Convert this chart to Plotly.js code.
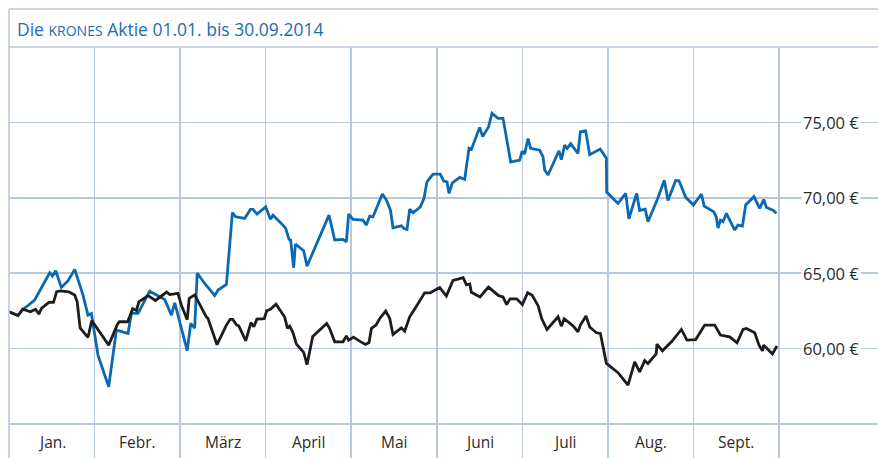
<!DOCTYPE html>
<html><head><meta charset="utf-8">
<script src="https://cdn.plot.ly/plotly-3.0.1.min.js"></script>
<style>html,body{margin:0;padding:0;background:#fff}#chart{width:878px;height:458px}</style>
</head><body><div id="chart"></div><script>
// Month labels (equal-width month bands, x in month units 0..9)
const months = ["Jan.","Febr.","März","April","Mai","Juni","Juli","Aug.","Sept."];
const monthEdges = [1,2,3,4,5,6,7,8,9];
const yGrid = [55,60,65,70,75];
const yLabelVals = [60,65,70,75];
const yLabelText = ["60,00 €","65,00 €","70,00 €","75,00 €"];

// KRONES share (blue)
const kronesX = [0,0.105,0.164,0.300,0.476,0.507,0.546,0.612,0.690,0.768,0.865,0.923,0.963,1.040,1.165,1.255,1.391,1.431,1.508,1.644,1.820,1.898,1.937,2.083,2.124,2.170,2.200,2.287,2.404,2.443,2.541,2.611,2.650,2.755,2.821,2.852,2.899,3.000,3.055,3.086,3.202,3.234,3.273,3.292,3.327,3.347,3.444,3.483,3.740,3.807,3.904,3.943,3.970,4.021,4.137,4.177,4.216,4.254,4.364,4.411,4.458,4.488,4.586,4.617,4.652,4.683,4.722,4.808,4.850,4.885,4.956,5.040,5.081,5.119,5.143,5.182,5.268,5.326,5.376,5.404,5.501,5.536,5.604,5.645,5.715,5.774,5.864,5.969,5.998,6.027,6.066,6.097,6.203,6.241,6.261,6.300,6.428,6.456,6.495,6.524,6.565,6.650,6.678,6.740,6.787,6.910,6.982,6.985,7.118,7.208,7.245,7.336,7.371,7.436,7.468,7.576,7.659,7.702,7.792,7.831,7.909,7.999,8.093,8.125,8.236,8.266,8.287,8.315,8.345,8.385,8.482,8.520,8.572,8.610,8.707,8.774,8.821,8.852,8.930,8.969];
const kronesY = [62.44,62.19,62.60,63.22,65.03,64.81,65.16,64.06,64.50,65.25,63.55,62.22,62.33,59.57,57.47,61.23,61.01,62.33,62.33,63.81,63.26,62.22,63.04,59.87,61.67,61.36,65.01,64.32,63.51,63.88,64.26,69.01,68.74,68.63,69.23,69.23,68.92,69.40,68.57,68.85,68.19,67.97,67.24,67.20,65.36,66.93,66.49,65.47,68.85,67.20,67.24,67.08,68.92,68.57,68.52,68.19,68.79,68.74,70.25,69.85,69.18,68.01,68.14,67.97,67.90,69.25,69.01,69.40,69.96,71.06,71.57,71.57,71.11,71.06,70.29,70.99,71.35,71.22,73.28,73.21,74.67,74.06,74.69,75.60,75.27,75.27,72.37,72.50,73.10,72.90,73.93,73.28,73.16,72.72,71.84,71.51,73.12,72.53,73.49,73.28,73.59,72.94,74.38,74.44,72.86,73.23,72.63,70.38,69.63,70.29,68.61,70.29,69.16,69.25,68.41,69.87,71.17,69.82,71.15,71.13,70.03,69.52,70.25,69.45,69.07,68.74,67.99,68.52,68.41,68.97,67.86,68.19,68.12,69.52,70.07,69.30,69.89,69.36,69.18,68.97];

// Comparison index (black)
const indexX = [0,0.105,0.160,0.251,0.310,0.349,0.379,0.470,0.520,0.557,0.598,0.698,0.768,0.797,0.831,0.923,0.967,1.165,1.265,1.290,1.387,1.446,1.489,1.518,1.625,1.712,1.843,1.878,1.975,2.015,2.083,2.106,2.170,2.249,2.305,2.326,2.431,2.541,2.585,2.615,2.661,2.685,2.767,2.828,2.862,2.897,2.983,3.012,3.055,3.121,3.164,3.222,3.255,3.281,3.319,3.359,3.444,3.483,3.550,3.631,3.713,3.745,3.807,3.904,3.943,3.970,4.025,4.102,4.167,4.208,4.236,4.289,4.333,4.403,4.450,4.488,4.586,4.625,4.683,4.753,4.858,4.923,5.034,5.112,5.189,5.248,5.308,5.346,5.385,5.404,5.505,5.604,5.723,5.774,5.817,5.856,5.934,6.000,6.062,6.115,6.185,6.228,6.288,6.417,6.456,6.489,6.592,6.650,6.678,6.744,6.787,6.865,6.912,6.982,7.118,7.235,7.313,7.371,7.430,7.468,7.564,7.573,7.637,7.742,7.859,7.924,8.026,8.131,8.248,8.315,8.423,8.509,8.579,8.619,8.716,8.766,8.806,8.821,8.922,8.976];
const indexY = [62.44,62.19,62.61,62.44,62.61,62.29,62.67,63.08,63.07,63.78,63.83,63.77,63.55,63.10,61.37,60.74,61.86,60.23,61.59,61.78,61.78,62.65,62.53,63.10,63.51,63.19,63.75,63.58,63.66,62.88,61.92,63.33,63.56,62.67,62.12,62.00,60.26,61.56,61.94,61.94,61.56,61.51,60.52,61.72,61.45,61.96,61.99,62.51,62.60,62.95,62.60,62.09,61.34,61.49,61.06,60.30,59.75,58.93,60.80,61.23,61.67,61.36,60.45,60.45,60.84,60.56,60.76,60.48,60.28,60.40,61.34,61.56,62.00,62.49,62.00,60.94,61.38,61.16,62.11,62.73,63.70,63.70,64.05,63.48,64.52,64.61,64.71,64.23,64.29,63.73,63.43,64.08,63.51,63.42,62.92,63.30,63.30,62.92,63.70,63.53,62.83,61.96,61.27,62.11,61.49,61.98,61.51,61.11,61.56,62.16,61.43,61.05,61.01,59.02,58.40,57.58,59.12,58.46,59.20,59.01,59.64,60.30,59.85,60.45,61.27,60.56,60.60,61.56,61.56,60.90,60.78,60.38,61.27,61.34,61.05,60.23,59.85,60.23,59.64,60.17];

const W = 878, H = 458;
const mL = 9, mT = 47;
const pxPerMonth = 85.56, pxPerEuro = 15.08;
const plotW = W - mL, plotH = H - mT;
const yTop = 80;
const yBottom = yTop - plotH / pxPerEuro;
const frameTop = 1 + (mT - 9) / plotH;

const gridColor = '#b9c8de';
const font = 'Open Sans, Noto Sans, sans-serif';

const traces = [
  {x: kronesX, y: kronesY, type: 'scatter', mode: 'lines',
   line: {color: '#0a69b1', width: 2.8}, hoverinfo: 'skip'},
  {x: indexX, y: indexY, type: 'scatter', mode: 'lines',
   line: {color: '#1d1d1b', width: 2.8}, hoverinfo: 'skip'}
];

const annotations = [];
annotations.push({
  xref: 'paper', yref: 'paper', x: (15 - mL) / plotW, y: 1 + (mT - 28.5) / plotH,
  xanchor: 'left', yanchor: 'middle', showarrow: false,
  text: 'Die <span style="font-size:14px">KRONES</span> Aktie 01.01. bis 30.09.2014',
  font: {family: font, size: 17.5, color: '#1c6cb2'}
});
yLabelVals.forEach((v, i) => annotations.push({
  xref: 'paper', yref: 'y', x: (830.5 - mL) / plotW, y: v,
  xanchor: 'center', yanchor: 'middle', showarrow: false,
  text: yLabelText[i], bgcolor: '#ffffff', borderpad: 1,
  font: {family: font, size: 16.5, color: '#2b2b2b'}
}));
months.forEach((m, i) => annotations.push({
  xref: 'x', yref: 'y', x: i + 0.5, y: yTop - (442 - mT) / pxPerEuro,
  xanchor: 'center', yanchor: 'middle', showarrow: false,
  text: m, font: {family: font, size: 15.5, color: '#2b2b2b'}
}));

const shapes = [
  {type: 'line', xref: 'paper', yref: 'paper', x0: 0, x1: 1, y0: frameTop, y1: frameTop,
   line: {color: gridColor, width: 1.6}},
  {type: 'line', xref: 'paper', yref: 'paper', x0: 0, x1: 1, y0: 1, y1: 1,
   line: {color: gridColor, width: 1.6}},
  {type: 'line', xref: 'paper', yref: 'paper', x0: 0, x1: 0, y0: 0, y1: frameTop,
   line: {color: gridColor, width: 1.6}}
];

const layout = {
  width: W, height: H,
  margin: {l: mL, r: 0, t: mT, b: 0, pad: 0},
  paper_bgcolor: '#ffffff', plot_bgcolor: '#ffffff',
  showlegend: false,
  xaxis: {range: [0, plotW / pxPerMonth], tickmode: 'array', tickvals: monthEdges,
          showticklabels: false, ticks: '', showgrid: true, gridcolor: gridColor, gridwidth: 1.6,
          zeroline: false, showline: false, fixedrange: true},
  yaxis: {range: [yBottom, yTop], tickmode: 'array', tickvals: yGrid,
          showticklabels: false, ticks: '', showgrid: true, gridcolor: gridColor, gridwidth: 1.6,
          zeroline: false, showline: false, fixedrange: true},
  annotations: annotations,
  shapes: shapes
};

Plotly.newPlot('chart', traces, layout, {staticPlot: true, displayModeBar: false});
</script></body></html>
